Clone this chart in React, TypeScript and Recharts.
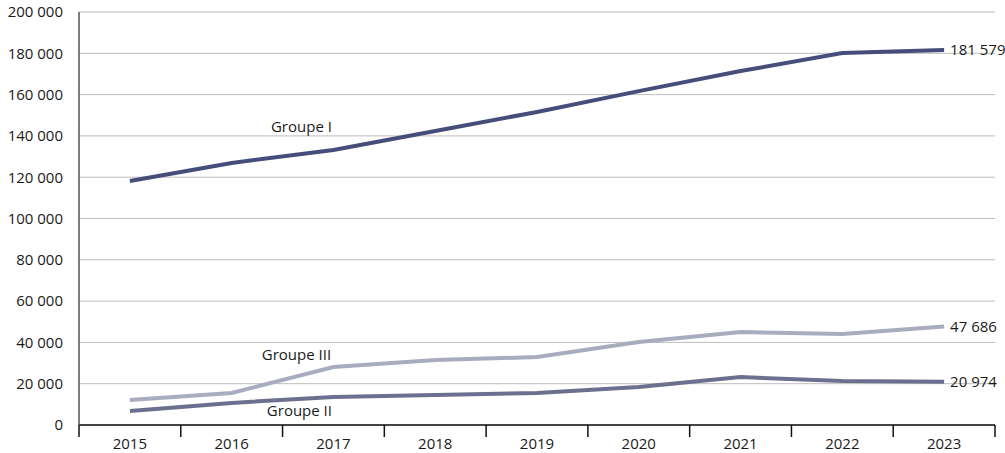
import {
    LineChart,
    Line,
    XAxis,
    YAxis,
    CartesianGrid,
    ReferenceDot
} from "recharts";

const years = ["2015", "2016", "2017", "2018", "2019", "2020", "2021", "2022", "2023"];
const groupeI = [118200, 126900, 133200, 142400, 151600, 161700, 171400, 180100, 181579];
const groupeII = [6800, 10700, 13600, 14500, 15500, 18400, 23200, 21300, 20974];
const groupeIII = [12100, 15500, 28100, 31500, 32900, 40200, 45000, 44100, 47686];
const yTicks = [0, 20000, 40000, 60000, 80000, 100000, 120000, 140000, 160000, 180000, 200000];

const data = years.map((year, i) => ({
    year,
    g1: groupeI[i],
    g2: groupeII[i],
    g3: groupeIII[i]
}));

const FONT = "'Open Sans', sans-serif";
const FS = 15;

const fmt = (v: number) => {
    const s = String(Math.round(v));
    return s.replace(/\B(?=(\d{3})+(?!\d))/g, " ");
};

const endLabel = (props: any) => {
    const { x, y, index, value } = props;
    if (index !== years.length - 1) return null;
    return (
        <text x={x + 6} y={y} dy="0.35em" fill="#1a1a1a" fontSize={FS} fontFamily={FONT}>
            {fmt(value)}
        </text>
    );
};

// year label in the band centre, tick marks on the band edges
const YearTick = (props: any) => {
    const { x, y, payload, index } = props;
    const half = payload.offset || 0;
    return (
        <g>
            <line x1={x - half} x2={x - half} y1={y} y2={y + 12} stroke="#111" strokeWidth={1.5} />
            {index === years.length - 1 && (
                <line x1={x + half} x2={x + half} y1={y} y2={y + 12} stroke="#111" strokeWidth={1.5} />
            )}
            <text x={x} y={y + 13} dy="0.71em" textAnchor="middle" fill="#1a1a1a" fontSize={FS} fontFamily={FONT}>
                {payload.value}
            </text>
        </g>
    );
};

export default function App() {
    return (
        <div style={{ position: "absolute", left: 0, top: 0, background: "#fff" }}>
            <LineChart
                width={1005}
                height={453}
                data={data}
                margin={{ top: 12, right: 10, left: 0, bottom: 0 }}
            >
                <CartesianGrid vertical={false} stroke="#bdbdbd" strokeWidth={1} />
                <XAxis
                    dataKey="year"
                    scale="band"
                    height={28}
                    axisLine={{ stroke: "#111", strokeWidth: 1.5 }}
                    tickLine={false}
                    tickSize={0}
                    tickMargin={0}
                    interval={0}
                    tick={<YearTick />}
                />
                <YAxis
                    width={79}
                    domain={[0, 200000]}
                    ticks={yTicks}
                    interval={0}
                    tickFormatter={fmt}
                    axisLine={{ stroke: "#555", strokeWidth: 1.5 }}
                    tickLine={false}
                    tickSize={0}
                    tickMargin={16}
                    tick={{ fill: "#1a1a1a", fontSize: FS, fontFamily: FONT }}
                />
                <Line
                    dataKey="g3"
                    stroke="#a9abbf"
                    strokeWidth={4}
                    dot={false}
                    isAnimationActive={false}
                    label={endLabel}
                />
                <Line
                    dataKey="g2"
                    stroke="#6c6f8e"
                    strokeWidth={4}
                    dot={false}
                    isAnimationActive={false}
                    label={endLabel}
                />
                <Line
                    dataKey="g1"
                    stroke="#454e7a"
                    strokeWidth={4}
                    dot={false}
                    isAnimationActive={false}
                    label={endLabel}
                />
                <ReferenceDot
                    x="2017"
                    y={144300}
                    r={0}
                    label={{ value: "Groupe I", position: "center", dx: -32, fill: "#1a1a1a", fontSize: FS, fontFamily: FONT }}
                />
                <ReferenceDot
                    x="2017"
                    y={33900}
                    r={0}
                    label={{ value: "Groupe III", position: "center", dx: -37, fill: "#1a1a1a", fontSize: FS, fontFamily: FONT }}
                />
                <ReferenceDot
                    x="2017"
                    y={6800}
                    r={0}
                    label={{ value: "Groupe II", position: "center", dx: -34, fill: "#1a1a1a", fontSize: FS, fontFamily: FONT }}
                />
            </LineChart>
        </div>
    );
}
